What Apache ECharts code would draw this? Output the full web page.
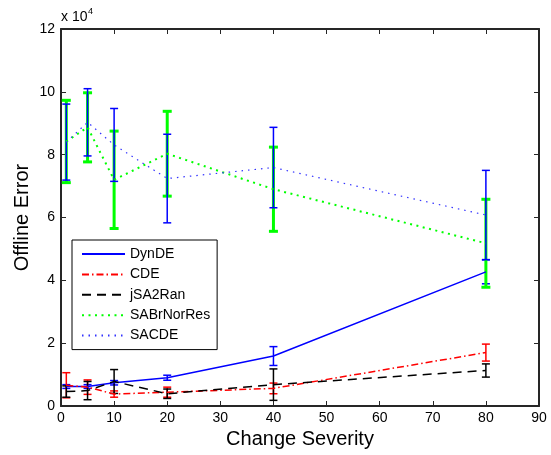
<!DOCTYPE html>
<html>
<head>
<meta charset="utf-8">
<script src="https://cdn.jsdelivr.net/npm/echarts@6/dist/echarts.min.js"></script>
<style>
html,body{margin:0;padding:0;background:#fff;}
#chart{width:551px;height:455px;}
</style>
</head>
<body>
<div id="chart"></div>
<script>
// ---- data (values in Offline Error units) ----
var severity = [1, 5, 10, 20, 40, 80];
var seriesNames = ['DynDE', 'CDE', 'jSA2Ran', 'SABrNorRes', 'SACDE'];

var dynDE      = [6200, 6200, 7400, 9000, 15900, 42700];
var dynDEErr   = [600, 600, 700, 800, 3000, 3800];
var cde        = [6600, 6000, 3800, 4400, 5600, 17000];
var cdeErr     = [4000, 2300, 1000, 1600, 1700, 2700];
var jsa2ran    = [4600, 4900, 7800, 3900, 6800, 11300];
var jsa2ranErr = [1800, 2900, 3800, 1500, 5000, 2100];
var sabr       = [84200, 88700, 72000, 80300, 69000, 51800];
var sabrErr    = [13100, 11000, 15500, 13500, 13400, 14000];
var sacde      = [84000, 90300, 83100, 72400, 75900, 60800];
var sacdeErr   = [12100, 10700, 11600, 14100, 12800, 14200];

var yTicks = [0, 2, 4, 6, 8, 10, 12];   // labels (x 10^4)
var yScale = 10000;

function pts(means) { return severity.map(function (x, i) { return [x, means[i]]; }); }
function bars(means, errs) {
  return severity.map(function (x, i) { return [x, means[i] - errs[i], means[i] + errs[i]]; });
}

function errSeries(name, means, errs, color, lw, capW) {
  return {
    type: 'custom',
    name: name + ' err',
    data: bars(means, errs),
    encode: { x: 0, y: [1, 2] },
    silent: true,
    renderItem: function (params, api) {
      var x = api.value(0), lo = api.value(1), hi = api.value(2);
      var a = api.coord([x, hi]), b = api.coord([x, lo]);
      var h = capW / 2;
      var st = { stroke: color, lineWidth: lw };
      return {
        type: 'group',
        children: [
          { type: 'line', shape: { x1: a[0], y1: a[1], x2: b[0], y2: b[1] }, style: st },
          { type: 'line', shape: { x1: a[0] - h, y1: a[1], x2: a[0] + h, y2: a[1] }, style: st },
          { type: 'line', shape: { x1: b[0] - h, y1: b[1], x2: b[0] + h, y2: b[1] }, style: st }
        ]
      };
    }
  };
}

function lineSeries(name, means, color, width, type) {
  return {
    type: 'line',
    name: name,
    data: pts(means),
    symbol: 'none',
    smooth: false,
    lineStyle: { color: color, width: width, type: type },
    itemStyle: { color: color },
    z: 3
  };
}

var axisCol = '#262626';
var font = 'Liberation Sans, Arial, Helvetica, sans-serif';

var chart = echarts.init(document.getElementById('chart'), null, { renderer: 'canvas' });
chart.setOption({
  animation: false,
  backgroundColor: '#fff',
  grid: { left: 61, right: 12, top: 29, bottom: 49, containLabel: false },
  graphic: [
    { type: 'text', left: 61, top: 10, style: { text: 'x 10', fontSize: 14, fontFamily: font, fill: '#000' } },
    { type: 'text', left: 88, top: 7, style: { text: '4', fontSize: 9, fontFamily: font, fill: '#000' } }
  ],
  legend: {
    data: seriesNames,
    orient: 'vertical',
    left: 72,
    top: 240,
    itemWidth: 43,
    itemHeight: 14,
    itemGap: 6.4,
    padding: [7, 7, 7, 9],
    borderColor: '#000',
    borderWidth: 1,
    backgroundColor: '#fff',
    itemStyle: { opacity: 0 },
    textStyle: { fontSize: 14, fontFamily: font, color: '#000' },
    selectedMode: false,
    z: 10
  },
  xAxis: [{
    type: 'value', min: 0, max: 90, interval: 10,
    name: 'Change Severity', nameLocation: 'middle', nameGap: 23,
    nameMoveOverlap: false,
    nameTextStyle: { fontSize: 20, fontFamily: font, color: '#000' },
    axisLine: { show: true, onZero: false, lineStyle: { color: axisCol, width: 2 } },
    axisTick: { show: true, inside: true, length: 5, lineStyle: { color: axisCol, width: 1 } },
    axisLabel: { fontSize: 14, fontFamily: font, color: '#000', margin: 5 },
    splitLine: { show: false }
  }, {
    type: 'value', min: 0, max: 90, interval: 10, position: 'top',
    axisLine: { show: true, onZero: false, lineStyle: { color: axisCol, width: 2 } },
    axisTick: { show: true, inside: true, length: 5, lineStyle: { color: axisCol, width: 1 } },
    axisLabel: { show: false },
    splitLine: { show: false }
  }],
  yAxis: [{
    type: 'value', min: 0, max: 120000, interval: 20000,
    name: 'Offline Error', nameLocation: 'middle', nameGap: 29,
    nameMoveOverlap: false,
    nameTextStyle: { fontSize: 20, fontFamily: font, color: '#000' },
    axisLine: { show: true, onZero: false, lineStyle: { color: axisCol, width: 2 } },
    axisTick: { show: true, inside: true, length: 5, lineStyle: { color: axisCol, width: 1 } },
    axisLabel: {
      fontSize: 14, fontFamily: font, color: '#000', margin: 6,
      formatter: function (v) { return String(yTicks[Math.round(v / yScale / 2)]); }
    },
    splitLine: { show: false }
  }, {
    type: 'value', min: 0, max: 120000, interval: 20000, position: 'right',
    axisLine: { show: true, onZero: false, lineStyle: { color: axisCol, width: 2 } },
    axisTick: { show: true, inside: true, length: 5, lineStyle: { color: axisCol, width: 1 } },
    axisLabel: { show: false },
    splitLine: { show: false }
  }],
  series: [
    lineSeries('DynDE', dynDE, '#0000ff', 1.5, 'solid'),
    errSeries('DynDE', dynDE, dynDEErr, '#0000ff', 1.5, 8),
    lineSeries('CDE', cde, '#ff0000', 1.5, [7, 3, 1.5, 3]),
    errSeries('CDE', cde, cdeErr, '#ff0000', 1.5, 8),
    lineSeries('jSA2Ran', jsa2ran, '#000000', 1.5, [9, 6]),
    errSeries('jSA2Ran', jsa2ran, jsa2ranErr, '#000000', 1.5, 8),
    lineSeries('SABrNorRes', sabr, '#00ff00', 2, [2, 4.5]),
    errSeries('SABrNorRes', sabr, sabrErr, '#00ff00', 3, 9),
    lineSeries('SACDE', sacde, '#3333ff', 1.2, [1.5, 5]),
    errSeries('SACDE', sacde, sacdeErr, '#0000ff', 1.5, 8)
  ]
});
</script>
</body>
</html>
